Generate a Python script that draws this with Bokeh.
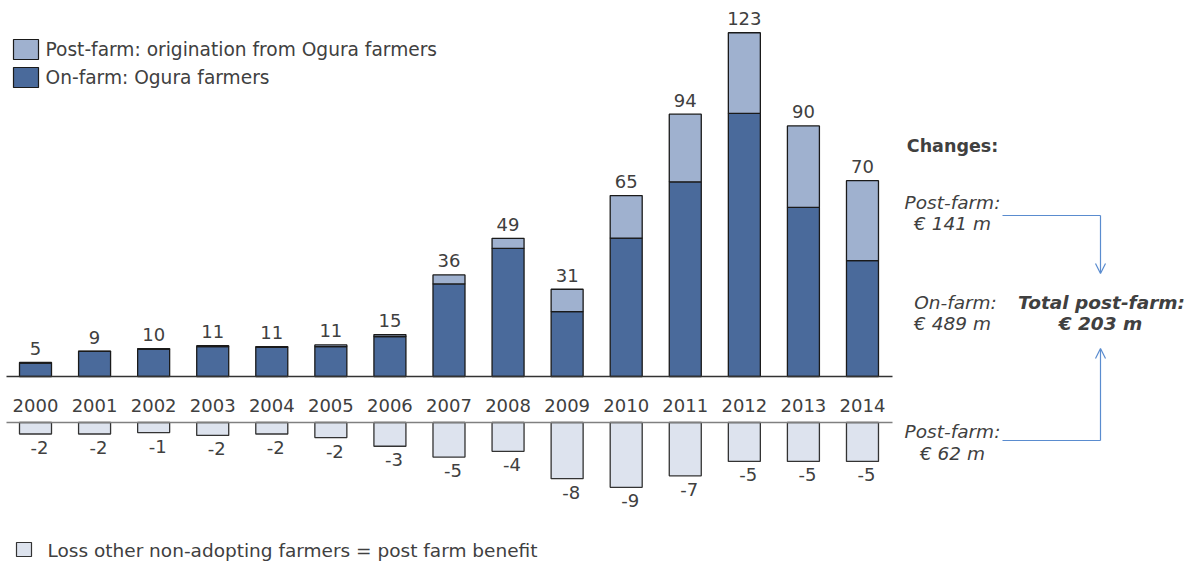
import numpy as np
from bokeh.plotting import figure
from bokeh.models import Range1d, Arrow, OpenHead
from bokeh.core.properties import value
from bokeh.embed import file_html
from bokeh.resources import INLINE

# ---------------- data ----------------
years = ["2000", "2001", "2002", "2003", "2004", "2005", "2006", "2007",
         "2008", "2009", "2010", "2011", "2012", "2013", "2014"]
on_farm = [4.8, 9.0, 9.7, 10.7, 10.4, 10.7, 14.3, 33.1, 45.8, 23.2, 49.5, 69.6, 94.1, 60.5, 41.4]
post_farm = [0.2, 0.1, 0.3, 0.3, 0.3, 0.6, 0.7, 3.2, 3.6, 8.0, 15.2, 24.2, 28.8, 29.1, 28.6]
loss = [-1.6, -1.6, -1.4, -1.8, -1.6, -2.1, -3.3, -4.8, -4.0, -7.8, -9.0, -7.4, -5.4, -5.4, -5.4]

legend_post = "Post-farm: origination from Ogura farmers"
legend_on = "On-farm: Ogura farmers"
legend_loss = "Loss other non-adopting farmers = post farm benefit"

# ---------------- layout ----------------
W, H = 1193, 567
X0, XS = 35.0, 59.07      # pixel of first bar centre, pixels per category
Y0, YS = 376.0, 2.797     # pixel of upper baseline, pixels per unit
L0, LS = 422.0, 7.2       # pixel of lower baseline, pixels per unit

def dx(px):
    return (px - X0) / XS

def dy(py):
    return (Y0 - py) / YS

FONT = value("DejaVu Sans")
TC = "#404040"
C_ON = "#4a6a9b"
C_POST = "#9fb1cf"
C_LOSS = "#dde3ee"
AC = "#5a8ccf"

p = figure(width=W, height=H, x_range=Range1d(dx(0), dx(W)), y_range=Range1d(dy(H), dy(0)),
           output_backend="svg", toolbar_location=None, x_axis_location=None,
           y_axis_location=None, min_border=0, outline_line_color=None)
p.grid.visible = False
p.extra_y_ranges = {"loss": Range1d((L0 - H) / LS, L0 / LS)}

idx = np.arange(len(years))
on = np.array(on_farm)
post = np.array(post_farm)
ls = np.array(loss)
tot = on + post
bw = 32 / XS

p.vbar(x=idx, bottom=0, top=on, width=bw, fill_color=C_ON, line_color="#1a1a1a", line_width=1.3)
p.vbar(x=idx, bottom=on, top=tot, width=bw, fill_color=C_POST, line_color="#1a1a1a", line_width=1.3)
p.vbar(x=idx, bottom=0, top=ls, width=bw, fill_color=C_LOSS, line_color="#333333", line_width=1.3,
       y_range_name="loss")

p.segment(x0=[dx(6)], y0=[0], x1=[dx(892)], y1=[0], line_color="#333333", line_width=1.5)
p.segment(x0=[dx(6)], y0=[0], x1=[dx(892)], y1=[0], line_color="#808080", line_width=1.5,
          y_range_name="loss")

# value labels
p.text(x=idx, y=tot + 14 / YS, text=[str(int(round(float(t)))) for t in tot],
       text_align="center", text_baseline="middle", text_font=FONT,
       text_font_size=value("18px"), text_color=TC)
p.text(x=idx + 4 / XS, y=ls - 13.5 / LS, text=[str(int(round(float(v)))) for v in ls],
       text_align="center", text_baseline="middle", text_font=FONT,
       text_font_size=value("18px"), text_color=TC, y_range_name="loss")
p.text(x=idx, y=[dy(404.5)] * len(years), text=years, text_align="center",
       text_baseline="middle", text_font=FONT, text_font_size=value("18px"), text_color=TC)

# legends
p.rect(x=[dx(25.5), dx(25.5)], y=[dy(49), dy(77)], width=25, height=20,
       width_units="screen", height_units="screen", fill_color=[C_POST, C_ON],
       line_color="#1a1a1a", line_width=1.2)
p.text(x=[dx(45), dx(45)], y=[dy(49), dy(77)], text=[legend_post, legend_on],
       text_align="left", text_baseline="middle", text_font=FONT,
       text_font_size=value("18.6px"), text_color=TC)
p.rect(x=[dx(23.5)], y=[dy(549)], width=15, height=14, width_units="screen",
       height_units="screen", fill_color=C_LOSS, line_color="#333333", line_width=1.2)
p.text(x=[dx(47)], y=[dy(550)], text=[legend_loss], text_align="left",
       text_baseline="middle", text_font=FONT, text_font_size=value("18.5px"), text_color=TC)

# right-hand annotations
def note(x, y, t, style, size="18.5px"):
    p.text(x=[dx(x)], y=[dy(y)], text=[t], text_align="center", text_baseline="middle",
           text_font=FONT, text_font_size=value(size), text_font_style=style, text_color=TC)

note(952, 145, "Changes:", "bold", "17.5px")
note(952, 202, "Post-farm:", "italic")
note(952, 223, "€ 141 m", "italic")
note(955, 302, "On-farm:", "italic")
note(952, 323, "€ 489 m", "italic")
note(1101, 302, "Total post-farm:", "bold italic")
note(1100, 323, "€ 203 m", "bold italic")
note(952, 431, "Post-farm:", "italic")
note(952, 453, "€ 62 m", "italic")

p.segment(x0=[dx(1002), dx(1002)], y0=[dy(215), dy(440)], x1=[dx(1100), dx(1100)],
          y1=[dy(215), dy(440)], line_color=AC, line_width=1.2)
p.add_layout(Arrow(end=OpenHead(size=10, line_color=AC, line_width=1.2),
                   x_start=dx(1100), y_start=dy(215), x_end=dx(1100), y_end=dy(273),
                   line_color=AC, line_width=1.2))
p.add_layout(Arrow(end=OpenHead(size=10, line_color=AC, line_width=1.2),
                   x_start=dx(1100), y_start=dy(440), x_end=dx(1100), y_end=dy(348),
                   line_color=AC, line_width=1.2))

open("out.html", "w").write(file_html(p, INLINE))
